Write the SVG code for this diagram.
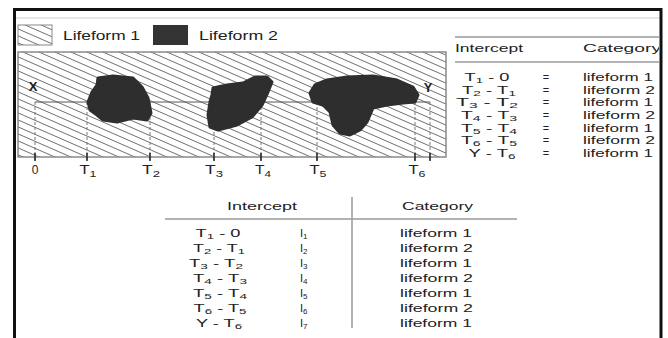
<svg xmlns="http://www.w3.org/2000/svg" width="668" height="338" viewBox="0 0 668 338">
<defs>
<pattern id="hatch" patternUnits="userSpaceOnUse" width="16" height="7">
<path d="M0,-7 L16,0 M0,0 L16,7 M0,7 L16,14" stroke="#5e5e5e" stroke-width="0.9" fill="none"/>
</pattern>
<clipPath id="frameClip"><rect x="14" y="9" width="645" height="329"/></clipPath>
<style>
text{font-family:"Liberation Sans",Arial,sans-serif;fill:#222;}
.t11{font-size:11px;}
.t12{font-size:12px;}
.lbl{font-size:13px;font-weight:bold;}
.rule{stroke:#9a9a9a;stroke-width:1.5;fill:none;}
.dash{stroke:#777;stroke-width:1;stroke-dasharray:3,2;fill:none;}
.tick{stroke:#222;stroke-width:1.5;}
.blob{fill:#2e2e2e;stroke:#2e2e2e;stroke-width:3;stroke-linejoin:round;}
</style>
</defs>
<rect width="668" height="338" fill="#fff"/>
<line x1="14" y1="18" x2="660" y2="18" stroke="#cfcfcf" stroke-width="1"/>

<g id="legend">
<rect x="18" y="25" width="34" height="20" fill="url(#hatch)" stroke="#888" stroke-width="1"/>
<text class="t12" x="63" y="40" textLength="77" lengthAdjust="spacingAndGlyphs">Lifeform 1</text>
<rect x="153" y="25" width="35" height="20" fill="#333"/>
<text class="t12" x="199" y="40" textLength="79" lengthAdjust="spacingAndGlyphs">Lifeform 2</text>
</g>

<g id="plot">
<rect x="18" y="52" width="428" height="105" fill="url(#hatch)" stroke="#8a8a8a" stroke-width="1.5"/>
</g>

<g id="connectors">
<line x1="35" y1="102" x2="430" y2="102" stroke="#555" stroke-width="1"/>
<line class="dash" x1="35" y1="102" x2="35" y2="160"/>
<line class="dash" x1="87" y1="102" x2="87" y2="160"/>
<line class="dash" x1="150" y1="102" x2="150" y2="160"/>
<line class="dash" x1="214" y1="102" x2="214" y2="160"/>
<line class="dash" x1="261" y1="102" x2="261" y2="160"/>
<line class="dash" x1="317" y1="102" x2="317" y2="160"/>
<line class="dash" x1="415" y1="102" x2="415" y2="160"/>
<line class="dash" x1="430" y1="102" x2="430" y2="160"/>
<line class="tick" x1="35" y1="153" x2="35" y2="161"/>
<line class="tick" x1="87" y1="153" x2="87" y2="161"/>
<line class="tick" x1="150" y1="153" x2="150" y2="161"/>
<line class="tick" x1="214" y1="153" x2="214" y2="161"/>
<line class="tick" x1="261" y1="153" x2="261" y2="161"/>
<line class="tick" x1="317" y1="153" x2="317" y2="161"/>
<line class="tick" x1="415" y1="153" x2="415" y2="161"/>
<line class="tick" x1="430" y1="153" x2="430" y2="161"/>
</g>

<g id="blob1"><polygon class="blob" points="98,78 113,76 133,78 142,87 148,98 151,113 147,120 133,118 117,122 103,120 97,115 90,110 88,102 92,92 97,85"/></g>
<g id="blob2"><polygon class="blob" points="213,88 227,85 243,83 255,77 267,77 272,82 268,92 262,105 252,117 237,125 218,130 210,127 208,115 210,102 212,95"/></g>
<g id="blob3"><polygon class="blob" points="315,85 327,80 347,77 373,76 397,80 413,87 418,95 415,102 403,103 387,105 373,108 367,122 360,130 350,135 340,133 333,125 330,112 323,105 313,102 310,93"/></g>

<g id="pointX"><text class="lbl" x="33" y="91" text-anchor="middle">X</text></g>
<g id="pointY"><text class="lbl" x="428" y="92" text-anchor="middle">Y</text></g>

<g id="axis-labels" class="t12">
<text x="35" y="174" text-anchor="middle">0</text>
<text x="88" y="174" text-anchor="middle" textLength="17" lengthAdjust="spacingAndGlyphs">T<tspan dy="3" font-size="9">1</tspan></text>
<text x="151" y="174" text-anchor="middle" textLength="18" lengthAdjust="spacingAndGlyphs">T<tspan dy="3" font-size="9">2</tspan></text>
<text x="214" y="174" text-anchor="middle" textLength="18" lengthAdjust="spacingAndGlyphs">T<tspan dy="3" font-size="9">3</tspan></text>
<text x="263" y="174" text-anchor="middle" textLength="16" lengthAdjust="spacingAndGlyphs">T<tspan dy="3" font-size="9">4</tspan></text>
<text x="318" y="174" text-anchor="middle" textLength="17" lengthAdjust="spacingAndGlyphs">T<tspan dy="3" font-size="9">5</tspan></text>
<text x="417" y="174" text-anchor="middle" textLength="17" lengthAdjust="spacingAndGlyphs">T<tspan dy="3" font-size="9">6</tspan></text>
</g>

<g id="table-right" class="t11" clip-path="url(#frameClip)">
<line class="rule" x1="455" y1="37" x2="660" y2="37"/>
<line class="rule" x1="455" y1="62" x2="660" y2="62"/>
<text x="455" y="52" textLength="68" lengthAdjust="spacingAndGlyphs">Intercept</text>
<text x="583" y="52" textLength="78" lengthAdjust="spacingAndGlyphs">Category</text>
<text x="487" y="81" text-anchor="middle" textLength="45" lengthAdjust="spacingAndGlyphs">T<tspan dy="2" font-size="8">1</tspan><tspan dy="-2"> - 0</tspan></text>
<text x="489" y="94" text-anchor="middle" textLength="54" lengthAdjust="spacingAndGlyphs">T<tspan dy="2" font-size="8">2</tspan><tspan dy="-2"> - T</tspan><tspan dy="2" font-size="8">1</tspan></text>
<text x="487" y="106" text-anchor="middle" textLength="62" lengthAdjust="spacingAndGlyphs">T<tspan dy="2" font-size="8">3</tspan><tspan dy="-2"> - T</tspan><tspan dy="2" font-size="8">2</tspan></text>
<text x="489" y="119" text-anchor="middle" textLength="56" lengthAdjust="spacingAndGlyphs">T<tspan dy="2" font-size="8">4</tspan><tspan dy="-2"> - T</tspan><tspan dy="2" font-size="8">3</tspan></text>
<text x="489" y="132" text-anchor="middle" textLength="56" lengthAdjust="spacingAndGlyphs">T<tspan dy="2" font-size="8">5</tspan><tspan dy="-2"> - T</tspan><tspan dy="2" font-size="8">4</tspan></text>
<text x="489" y="144" text-anchor="middle" textLength="56" lengthAdjust="spacingAndGlyphs">T<tspan dy="2" font-size="8">6</tspan><tspan dy="-2"> - T</tspan><tspan dy="2" font-size="8">5</tspan></text>
<text x="492" y="157" text-anchor="middle" textLength="47" lengthAdjust="spacingAndGlyphs">Y - T<tspan dy="2" font-size="8">6</tspan></text>
<text x="546" y="81" text-anchor="middle">=</text>
<text x="546" y="94" text-anchor="middle">=</text>
<text x="546" y="106" text-anchor="middle">=</text>
<text x="546" y="119" text-anchor="middle">=</text>
<text x="546" y="132" text-anchor="middle">=</text>
<text x="546" y="144" text-anchor="middle">=</text>
<text x="546" y="157" text-anchor="middle">=</text>
<text x="583" y="81" textLength="70" lengthAdjust="spacingAndGlyphs">lifeform 1</text>
<text x="583" y="94" textLength="72" lengthAdjust="spacingAndGlyphs">lifeform 2</text>
<text x="583" y="106" textLength="70" lengthAdjust="spacingAndGlyphs">lifeform 1</text>
<text x="583" y="119" textLength="72" lengthAdjust="spacingAndGlyphs">lifeform 2</text>
<text x="583" y="132" textLength="70" lengthAdjust="spacingAndGlyphs">lifeform 1</text>
<text x="583" y="144" textLength="72" lengthAdjust="spacingAndGlyphs">lifeform 2</text>
<text x="583" y="157" textLength="70" lengthAdjust="spacingAndGlyphs">lifeform 1</text>
</g>

<g id="table-bottom" class="t11">
<line class="rule" x1="165" y1="219" x2="517" y2="219" stroke-width="2"/>
<line class="rule" x1="352" y1="197" x2="352" y2="328"/>
<text x="227" y="210" textLength="70" lengthAdjust="spacingAndGlyphs">Intercept</text>
<text x="402" y="210" textLength="71" lengthAdjust="spacingAndGlyphs">Category</text>
<text x="218" y="237" text-anchor="middle" textLength="45" lengthAdjust="spacingAndGlyphs">T<tspan dy="2" font-size="8">1</tspan><tspan dy="-2"> - 0</tspan></text>
<text x="219" y="252" text-anchor="middle" textLength="52" lengthAdjust="spacingAndGlyphs">T<tspan dy="2" font-size="8">2</tspan><tspan dy="-2"> - T</tspan><tspan dy="2" font-size="8">1</tspan></text>
<text x="216" y="267" text-anchor="middle" textLength="54" lengthAdjust="spacingAndGlyphs">T<tspan dy="2" font-size="8">3</tspan><tspan dy="-2"> - T</tspan><tspan dy="2" font-size="8">2</tspan></text>
<text x="220" y="282" text-anchor="middle" textLength="54" lengthAdjust="spacingAndGlyphs">T<tspan dy="2" font-size="8">4</tspan><tspan dy="-2"> - T</tspan><tspan dy="2" font-size="8">3</tspan></text>
<text x="220" y="297" text-anchor="middle" textLength="54" lengthAdjust="spacingAndGlyphs">T<tspan dy="2" font-size="8">5</tspan><tspan dy="-2"> - T</tspan><tspan dy="2" font-size="8">4</tspan></text>
<text x="220" y="312" text-anchor="middle" textLength="53" lengthAdjust="spacingAndGlyphs">T<tspan dy="2" font-size="8">6</tspan><tspan dy="-2"> - T</tspan><tspan dy="2" font-size="8">5</tspan></text>
<text x="219" y="327" text-anchor="middle" textLength="46" lengthAdjust="spacingAndGlyphs">Y - T<tspan dy="2" font-size="8">6</tspan></text>
<text x="300" y="237">I<tspan dy="2" font-size="8">1</tspan></text>
<text x="300" y="252">I<tspan dy="2" font-size="8">2</tspan></text>
<text x="300" y="267">I<tspan dy="2" font-size="8">3</tspan></text>
<text x="300" y="282">I<tspan dy="2" font-size="8">4</tspan></text>
<text x="300" y="297">I<tspan dy="2" font-size="8">5</tspan></text>
<text x="300" y="312">I<tspan dy="2" font-size="8">6</tspan></text>
<text x="300" y="327">I<tspan dy="2" font-size="8">7</tspan></text>
<text x="400" y="237" textLength="72" lengthAdjust="spacingAndGlyphs">lifeform 1</text>
<text x="400" y="252" textLength="73" lengthAdjust="spacingAndGlyphs">lifeform 2</text>
<text x="400" y="267" textLength="72" lengthAdjust="spacingAndGlyphs">lifeform 1</text>
<text x="400" y="282" textLength="73" lengthAdjust="spacingAndGlyphs">lifeform 2</text>
<text x="400" y="297" textLength="72" lengthAdjust="spacingAndGlyphs">lifeform 1</text>
<text x="400" y="312" textLength="73" lengthAdjust="spacingAndGlyphs">lifeform 2</text>
<text x="400" y="327" textLength="72" lengthAdjust="spacingAndGlyphs">lifeform 1</text>
</g>

<g id="frame" fill="none" stroke="#111" stroke-width="3">
<path d="M14.5,338 L14.5,9.5 L661,9.5 L661,338"/>
</g>
</svg>
